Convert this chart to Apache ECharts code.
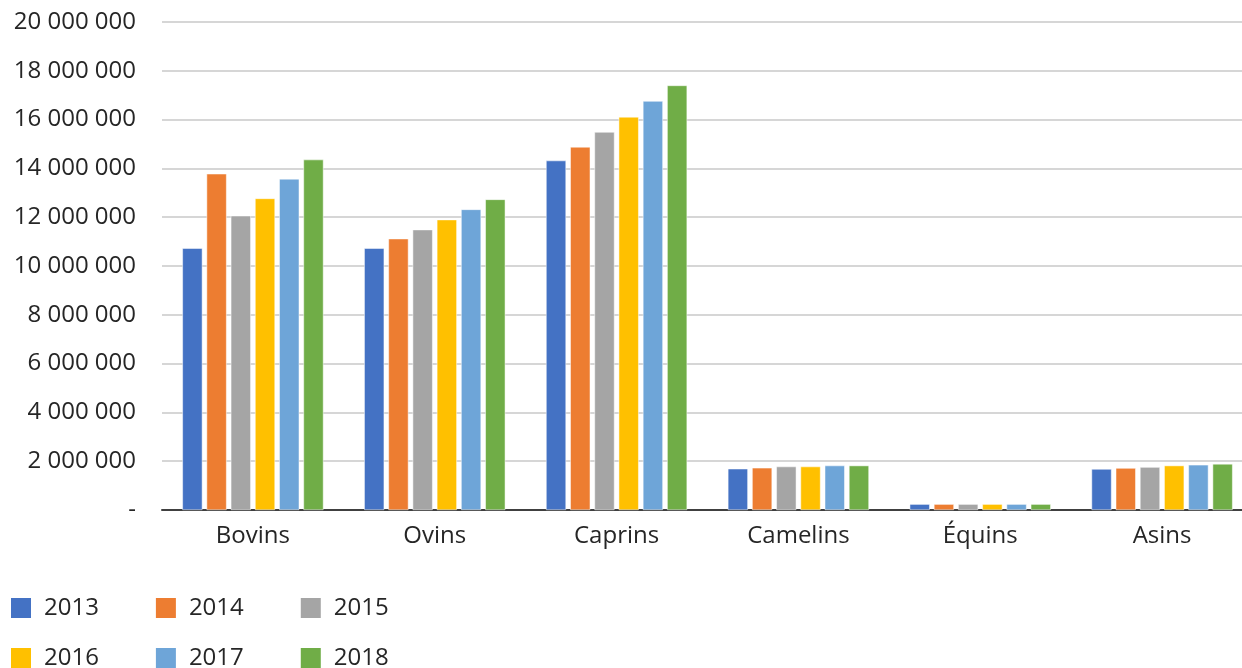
<!DOCTYPE html>
<html>
<head>
<meta charset="utf-8">
<script src="https://cdn.jsdelivr.net/npm/echarts@6/dist/echarts.min.js"></script>
<style>
    html, body { margin: 0; padding: 0; background: #fff; overflow: hidden; }
    #chart { width: 1242px; height: 668px; }
</style>
</head>
<body>
<div id="chart"></div>
<script>
    // catégories et effectifs du cheptel
    var categories = ['Bovins', 'Ovins', 'Caprins', 'Camelins', 'Équins', 'Asins'];
    var years = ['2013', '2014', '2015', '2016', '2017', '2018'];
    var colors = ['#4472C4', '#ED7D31', '#A5A5A5', '#FFC000', '#6EA5D8', '#70AD47'];

    var v2013 = [10730000, 10730000, 14320000, 1690000, 240000, 1680000];
    var v2014 = [13780000, 11120000, 14880000, 1730000, 240000, 1720000];
    var v2015 = [12060000, 11490000, 15490000, 1780000, 240000, 1760000];
    var v2016 = [12770000, 11900000, 16110000, 1780000, 240000, 1820000];
    var v2017 = [13570000, 12320000, 16760000, 1820000, 240000, 1850000];
    var v2018 = [14360000, 12730000, 17400000, 1820000, 240000, 1890000];
    var values = [v2013, v2014, v2015, v2016, v2017, v2018];

    var font = '"Open Sans", "Noto Sans", sans-serif';

    function fmt(v) {
        if (v === 0) return '-';
        return String(v).replace(/\B(?=(\d{3})+(?!\d))/g, ' ');
    }

    function legendRow(names, top) {
        return {
            data: names,
            left: 4,
            top: top,
            itemWidth: 22,
            itemHeight: 22,
            itemGap: 55,
            icon: 'rect',
            textStyle: { fontFamily: font, fontSize: 24, color: '#262626', padding: [0, 0, 0, 7] }
        };
    }

    var chart = echarts.init(document.getElementById('chart'));
    chart.setOption({
        animation: false,
        color: colors,
        // la zone de tracé déborde un peu à droite, comme sur l'original
        grid: { left: 162, width: 1091, top: 22, bottom: 158, outerBoundsMode: 'none' },
        legend: [
            legendRow(years.slice(0, 3), 591),
            legendRow(years.slice(3), 641)
        ],
        xAxis: {
            type: 'category',
            data: categories,
            axisTick: { show: false },
            axisLine: { lineStyle: { color: '#404040', width: 2 } },
            axisLabel: { fontFamily: font, fontSize: 24, color: '#262626', margin: 14 }
        },
        yAxis: {
            type: 'value',
            min: 0,
            max: 20000000,
            interval: 2000000,
            axisLabel: { fontFamily: font, fontSize: 24, color: '#262626', margin: 26, formatter: fmt },
            splitLine: { lineStyle: { color: '#c8c8c8', width: 1.5 } }
        },
        series: years.map(function (y, i) {
            return {
                name: y,
                type: 'bar',
                data: values[i],
                barGap: '21%',
                barCategoryGap: '22.4%',
                itemStyle: { color: colors[i], borderColor: '#fff', borderWidth: 0.5 }
            };
        })
    });
</script>
</body>
</html>
